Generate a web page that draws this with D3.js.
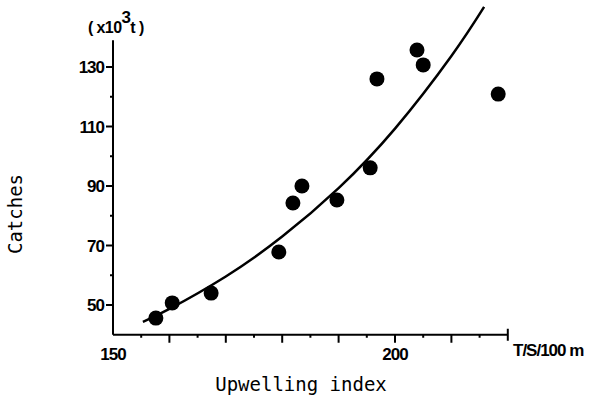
<!DOCTYPE html>
<html>
<head>
<meta charset="utf-8">
<script src="https://cdn.jsdelivr.net/npm/d3@7"></script>
<style>
  body { margin: 0; background: #fff; }
  svg { display: block; }
</style>
</head>
<body>
<div id="chart"></div>
<script>
// observed points: upwelling index vs catches (x10^3 t)
const upwelling = [157.6, 160.5, 167.4, 179.4, 181.9, 183.5, 189.7, 195.6, 196.8, 203.9, 205.0, 218.3];
const catches = [45.6, 50.7, 54.0, 67.8, 84.3, 90.0, 85.3, 96.1, 126.0, 135.7, 130.7, 120.9];

// fitted curve
const fitX = [155.3, 160, 170, 180, 190, 200, 210, 215.8];
const fitY = [44.3, 48.7, 59.6, 73.0, 89.3, 109.3, 133.7, 150.2];

const yMajor = [50, 70, 90, 110, 130];
const yMinor = [60, 80, 100, 120];
const xMajor = [160, 170, 180, 190, 200, 210];
const xMinor = [155, 165, 175, 185, 195, 205, 215];
const xLabels = [150, 200];

const width = 594, height = 400;

const x = d3.scaleLinear().domain([150, 200]).range([113, 395]);
const y = d3.scaleLinear().domain([50, 130]).range([305, 67]);

const svg = d3.select("#chart").append("svg")
  .attr("width", width)
  .attr("height", height);

const numFont = "'Liberation Sans', Arial, sans-serif";
const monoFont = "'DejaVu Sans Mono', monospace";

// axes lines
const x0 = 150, x1 = 220, y0 = 40, y1 = 139;
svg.append("line")
  .attr("x1", x(x0)).attr("x2", x(x1))
  .attr("y1", y(y0)).attr("y2", y(y0))
  .attr("stroke", "#000").attr("stroke-width", 2);
svg.append("line")
  .attr("x1", x(x0)).attr("x2", x(x0))
  .attr("y1", y(y0)).attr("y2", y(y1))
  .attr("stroke", "#000").attr("stroke-width", 2);

// y ticks
svg.append("g").selectAll("line")
  .data(yMajor)
  .join("line")
  .attr("x1", x(x0) - 7).attr("x2", x(x0))
  .attr("y1", (d) => y(d)).attr("y2", (d) => y(d))
  .attr("stroke", "#000").attr("stroke-width", 2);
svg.append("g").selectAll("line")
  .data(yMinor)
  .join("line")
  .attr("x1", x(x0) - 3).attr("x2", x(x0))
  .attr("y1", (d) => y(d)).attr("y2", (d) => y(d))
  .attr("stroke", "#000").attr("stroke-width", 2);
svg.append("g").selectAll("text")
  .data(yMajor)
  .join("text")
  .attr("x", x(x0) - 9)
  .attr("y", (d) => y(d))
  .attr("dy", "0.36em")
  .attr("text-anchor", "end")
  .attr("font-family", numFont)
  .attr("font-size", 17)
  .attr("font-weight", "bold")
  .attr("letter-spacing", -1)
  .text((d) => d);

// x ticks
svg.append("g").selectAll("line")
  .data(xMajor)
  .join("line")
  .attr("x1", (d) => x(d)).attr("x2", (d) => x(d))
  .attr("y1", y(y0)).attr("y2", y(y0) + 8)
  .attr("stroke", "#000").attr("stroke-width", 2);
svg.append("g").selectAll("line")
  .data(xMinor)
  .join("line")
  .attr("x1", (d) => x(d)).attr("x2", (d) => x(d))
  .attr("y1", y(y0)).attr("y2", y(y0) + 3)
  .attr("stroke", "#000").attr("stroke-width", 2);
svg.append("line")
  .attr("x1", x(x1)).attr("x2", x(x1))
  .attr("y1", y(y0) - 6).attr("y2", y(y0) + 6)
  .attr("stroke", "#000").attr("stroke-width", 2);
svg.append("g").selectAll("text")
  .data(xLabels)
  .join("text")
  .attr("x", (d) => x(d))
  .attr("y", 360)
  .attr("text-anchor", "middle")
  .attr("font-family", numFont)
  .attr("font-size", 17)
  .attr("font-weight", "bold")
  .attr("letter-spacing", -1)
  .text((d) => d);

// unit labels
const unit = svg.append("text")
  .attr("x", 88).attr("y", 33)
  .attr("font-family", numFont)
  .attr("font-weight", "bold")
  .attr("font-size", 16)
  .attr("letter-spacing", -0.6);
unit.append("tspan").text("( x10");
unit.append("tspan").attr("dy", -10).attr("font-size", 17).text("3");
unit.append("tspan").attr("dy", 10).text("t )");

svg.append("text")
  .attr("x", 513).attr("y", 356)
  .attr("font-family", numFont)
  .attr("font-size", 17)
  .attr("font-weight", "bold")
  .attr("letter-spacing", -1)
  .text("T/S/100 m");

// axis titles
svg.append("text")
  .attr("x", 301).attr("y", 391)
  .attr("text-anchor", "middle")
  .attr("font-family", monoFont)
  .attr("font-size", 19)
  .text("Upwelling index");
svg.append("text")
  .attr("transform", "translate(22,214) rotate(-90)")
  .attr("text-anchor", "middle")
  .attr("font-family", monoFont)
  .attr("font-size", 19)
  .text("Catches");

// fitted curve
const fit = fitX.map((d, i) => [d, fitY[i]]);
svg.append("path")
  .datum(fit)
  .attr("fill", "none")
  .attr("stroke", "#000")
  .attr("stroke-width", 2.5)
  .attr("d", d3.line()
    .x((d) => x(d[0]))
    .y((d) => y(d[1]))
    .curve(d3.curveNatural));

// points
svg.append("g").selectAll("circle")
  .data(upwelling.map((d, i) => [d, catches[i]]))
  .join("circle")
  .attr("cx", (d) => x(d[0]))
  .attr("cy", (d) => y(d[1]))
  .attr("r", 7.5)
  .attr("fill", "#000");
</script>
</body>
</html>
